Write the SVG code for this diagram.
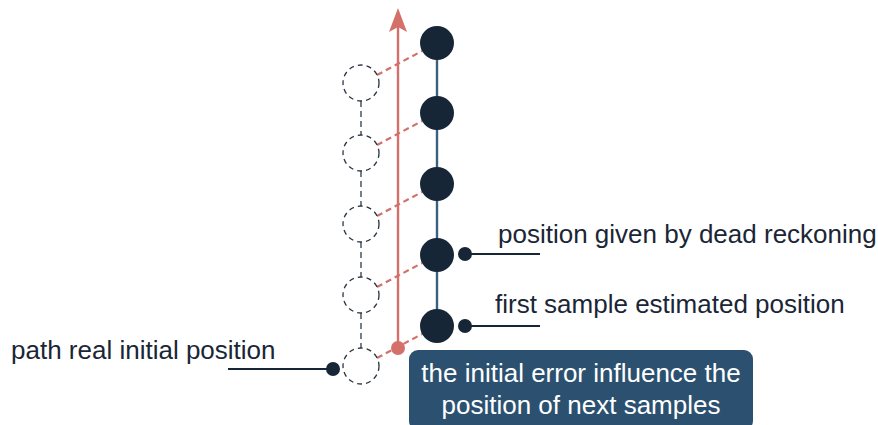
<svg xmlns="http://www.w3.org/2000/svg" width="878" height="425" viewBox="0 0 878 425">
  <defs>
    <style>
      .lbl { font-family: "Liberation Sans", Arial, sans-serif; font-size: 26px; fill: #1a2636; }
      .note { font-family: "Liberation Sans", Arial, sans-serif; font-size: 26px; fill: #ffffff; text-anchor: middle; }
      .sample { fill: #172637; }
      .ghost { fill: none; stroke: #2a3442; stroke-width: 1.3; stroke-dasharray: 5 4; }
      .offset { stroke: #d4706a; stroke-width: 2.2; stroke-dasharray: 6 4; fill: none; }
      .lead { stroke: #172637; stroke-width: 2.2; fill: none; }
    </style>
  </defs>

  <g id="connectors">
    <!-- real path: dashed vertical between ghost positions -->
    <line x1="361" y1="101" x2="361" y2="135" stroke="#55606c" stroke-width="1.6" stroke-dasharray="6 4"/>
    <line x1="361" y1="171" x2="361" y2="206" stroke="#55606c" stroke-width="1.6" stroke-dasharray="6 4"/>
    <line x1="361" y1="242" x2="361" y2="277" stroke="#55606c" stroke-width="1.6" stroke-dasharray="6 4"/>
    <line x1="361" y1="313" x2="361" y2="348" stroke="#55606c" stroke-width="1.6" stroke-dasharray="6 4"/>
    <!-- estimated path: solid vertical -->
    <line x1="437" y1="43" x2="437" y2="326" stroke="#3d5f7e" stroke-width="2.4"/>
    <!-- offsets between real and estimated positions -->
    <line class="offset" x1="377" y1="75" x2="422" y2="51"/>
    <line class="offset" x1="377" y1="145" x2="422" y2="121"/>
    <line class="offset" x1="377" y1="216" x2="422" y2="192"/>
    <line class="offset" x1="377" y1="287" x2="422" y2="263"/>
    <line class="offset" x1="377" y1="358" x2="422" y2="334"/>
    <!-- error direction arrow -->
    <line x1="398" y1="348" x2="398" y2="26" stroke="#d4706a" stroke-width="2.4"/>
    <path d="M398 8 L407 32 L398 27 L389 32 Z" fill="#d4706a"/>
    <circle cx="398" cy="348" r="7" fill="#d4706a"/>
    <!-- label leaders -->
    <line class="lead" x1="465" y1="254" x2="540" y2="254"/>
    <circle cx="465" cy="254" r="7" class="sample"/>
    <line class="lead" x1="465" y1="326" x2="540" y2="326"/>
    <circle cx="465" cy="326" r="7" class="sample"/>
    <line class="lead" x1="228" y1="369" x2="333" y2="369"/>
    <circle cx="333" cy="369" r="7" class="sample"/>
  </g>

  <g id="real-positions">
    <circle class="ghost" cx="361" cy="83" r="18"/>
    <circle class="ghost" cx="361" cy="153" r="18"/>
    <circle class="ghost" cx="361" cy="224" r="18"/>
    <circle class="ghost" cx="361" cy="295" r="18"/>
    <circle class="ghost" cx="361" cy="366" r="18"/>
  </g>

  <g id="estimated-positions">
    <circle class="sample" cx="437" cy="43" r="17"/>
    <circle class="sample" cx="437" cy="113" r="17"/>
    <circle class="sample" cx="437" cy="184" r="17"/>
    <circle class="sample" cx="437" cy="255" r="17"/>
    <circle class="sample" cx="437" cy="326" r="17"/>
  </g>

  <g id="label-dead-reckoning">
    <text class="lbl" x="498" y="243">position given by dead reckoning</text>
  </g>
  <g id="label-first-sample">
    <text class="lbl" x="495" y="313">first sample estimated position</text>
  </g>
  <g id="label-real-initial">
    <text class="lbl" x="11" y="359">path real initial position</text>
  </g>

  <g id="note-initial-error">
    <rect x="409" y="350" width="344" height="80" rx="9" fill="#2c5170"/>
    <text class="note" x="581" y="382">the initial error influence the</text>
    <text class="note" x="581" y="414">position of next samples</text>
  </g>
</svg>
